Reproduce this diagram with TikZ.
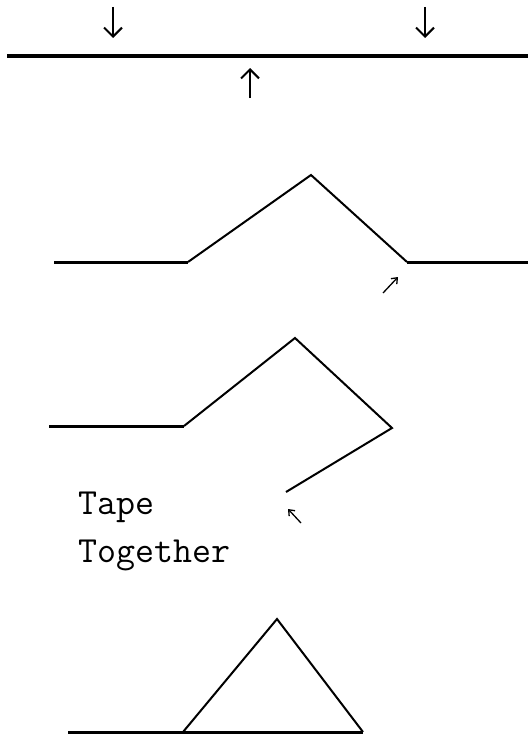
\documentclass[tikz,border=0pt]{standalone}
\usetikzlibrary{arrows.meta}
\begin{document}
\begin{tikzpicture}[x=1bp,y=-1bp,line join=miter,
  flat/.style={line width=3bp},
  slant/.style={line width=2bp},
  bigarrow/.style={line width=2bp,-{Straight Barb[length=9bp,width=18bp]}},
  smallarrow/.style={line width=1.3bp,-{Straight Barb[length=5bp,width=8bp]}},
  lbl/.style={font=\ttfamily\fontsize{37}{46}\selectfont,anchor=base west,inner sep=0pt}]
\useasboundingbox (0,0) rectangle (528,736);
% row 1
\coordinate (a1) at (7,56);
\coordinate (a2) at (528,56);
\draw[line width=3.6bp] (a1) -- (a2);
\coordinate (d1s) at (113,7); \coordinate (d1e) at (113,38);
\coordinate (d2s) at (425,7); \coordinate (d2e) at (425,38);
\coordinate (u1s) at (250,98); \coordinate (u1e) at (250,68);
\draw[bigarrow] (d1s) -- (d1e);
\draw[bigarrow] (d2s) -- (d2e);
\draw[bigarrow] (u1s) -- (u1e);
% row 2
\coordinate (b1) at (54,262);
\coordinate (b2) at (188,262);
\coordinate (b3) at (311,175);
\coordinate (b4) at (407,262);
\coordinate (b5) at (528,262);
\draw[flat] (b1) -- (b2);
\draw[slant] (b2) -- (b3) -- (b4);
\draw[flat] (b4) -- (b5);
\coordinate (s1s) at (383,293); \coordinate (s1e) at (398,277);
\draw[smallarrow] (s1s) -- (s1e);
% row 3
\coordinate (c1) at (49,426);
\coordinate (c2) at (184,426);
\coordinate (c3) at (295,338);
\coordinate (c4) at (392,428);
\coordinate (c5) at (286,492);
\draw[flat] (c1) -- (c2);
\draw[slant] (c2) -- (c3) -- (c4) -- (c5);
\coordinate (s2s) at (301,523); \coordinate (s2e) at (288,509);
\draw[smallarrow] (s2s) -- (s2e);
\node[lbl] (tape) at (78,514) {Tape};
\node[lbl] (together) at (78,562) {Together};
% row 4
\coordinate (e1) at (68,732);
\coordinate (e2) at (183,732);
\coordinate (e3) at (277,619);
\coordinate (e4) at (363,732);
\draw[flat] (e1) -- (e4);
\draw[slant] (e2) -- (e3) -- (e4);
\end{tikzpicture}
\end{document}
